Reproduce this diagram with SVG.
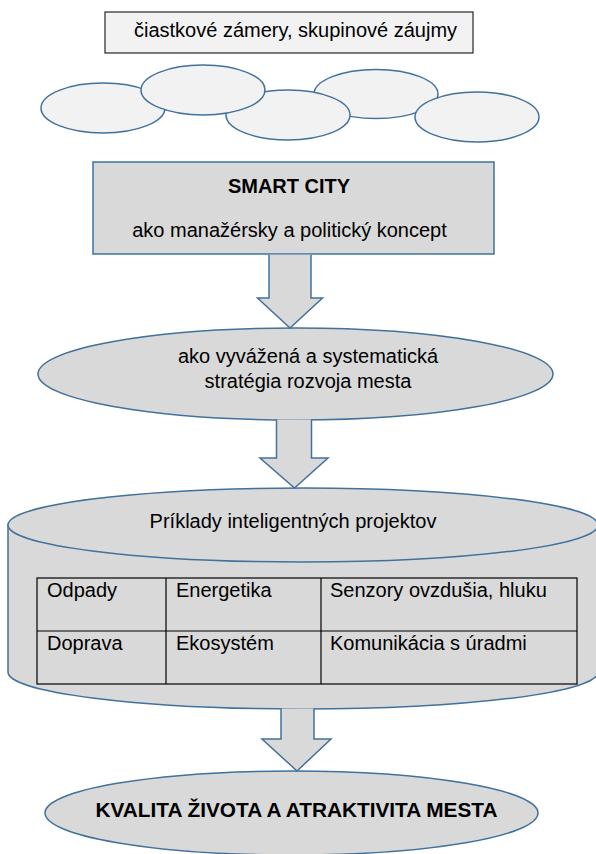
<svg xmlns="http://www.w3.org/2000/svg" width="596" height="854" viewBox="0 0 596 854">
<style>
text{font-family:"Liberation Sans",Arial,sans-serif;font-size:20px;fill:#000}
.b{font-weight:bold}
.c{text-anchor:middle}
.big{font-size:20.8px}
.blob{fill:#f2f2f2;stroke:#41719c;stroke-width:1.5}
.node{fill:#d9d9d9;stroke:#41719c;stroke-width:1.5}
.arrow{fill:#d9d9d9;stroke:#41719c;stroke-width:1.5;stroke-linejoin:miter}
.cell{fill:none;stroke:#000;stroke-width:1.2}
</style>
<rect width="596" height="854" fill="#fff"/>
<g id="goals">
<rect x="105" y="12" width="368" height="41" fill="#f2f2f2" stroke="#262626" stroke-width="1.2"/>
<text x="134" y="37">čiastkové zámery, skupinové záujmy</text>
</g>
<g id="interests">
<ellipse class="blob" cx="376" cy="94" rx="62" ry="24.5"/>
<ellipse class="blob" cx="288" cy="115" rx="62" ry="25"/>
<ellipse class="blob" cx="477" cy="117" rx="62" ry="25"/>
<ellipse class="blob" cx="103" cy="108" rx="62" ry="25"/>
<ellipse class="blob" cx="203" cy="90" rx="62" ry="25"/>
</g>
<g id="smartcity">
<rect class="node" x="93" y="162" width="401" height="92"/>
<text class="b c" x="289" y="193">SMART CITY</text>
<text class="c" x="289.5" y="237">ako manažérsky a politický koncept</text>
</g>
<g id="strategy">
<ellipse class="node" cx="295.5" cy="374" rx="257.5" ry="46"/>
<text class="c" x="308" y="363">ako vyvážená a systematická</text>
<text class="c" x="308" y="388">stratégia rozvoja mesta</text>
</g>
<g id="projects">
<path class="node" d="M8,525 V672 A295,37 0 0 0 598,672 V525 Z"/>
<ellipse class="node" cx="303" cy="525" rx="295" ry="37"/>
<text class="c" x="293" y="528">Príklady inteligentných projektov</text>
<rect class="cell" x="37" y="578" width="540" height="106"/>
<line class="cell" x1="37" y1="631" x2="577" y2="631"/>
<line class="cell" x1="166" y1="578" x2="166" y2="684"/>
<line class="cell" x1="321" y1="578" x2="321" y2="684"/>
<text x="47" y="597">Odpady</text>
<text x="176" y="597">Energetika</text>
<text x="330" y="597">Senzory ovzdušia, hluku</text>
<text x="47" y="650">Doprava</text>
<text x="176" y="650">Ekosystém</text>
<text x="330" y="650">Komunikácia s úradmi</text>
</g>
<g id="quality">
<ellipse class="node" cx="291.5" cy="813" rx="246.5" ry="42"/>
<text class="b c big" x="296.5" y="817">KVALITA ŽIVOTA A ATRAKTIVITA MESTA</text>
</g>
<g id="connectors">
<path class="arrow" d="M269,254.7 V298 H257.5 L290,328 L322.5,298 H311 V254.7"/>
<path class="arrow" d="M276.5,419.5 V458 H260 L294.5,488 L328,458 H311.5 V419.5"/>
<path class="arrow" d="M281,708.5 V739 H262 L297,771 L331,739 H314 V708.5"/>
</g>
</svg>
